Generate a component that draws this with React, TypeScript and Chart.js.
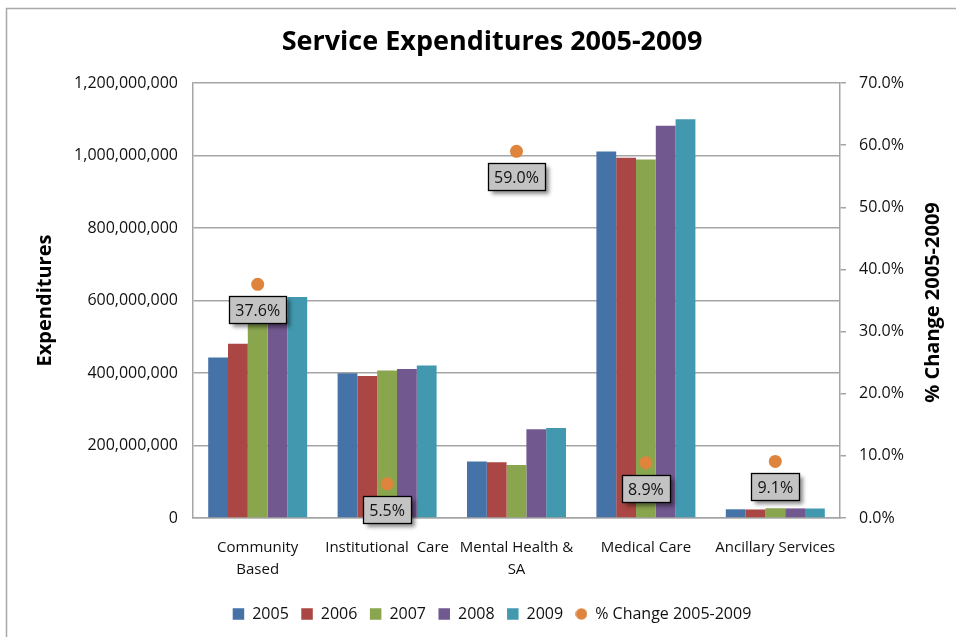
import React, { useEffect, useRef } from 'react';
import { Chart, registerables } from 'chart.js';

Chart.register(...registerables);

const categories: (string | string[])[] = [
  ['Community', 'Based'],
  'Institutional  Care',
  ['Mental Health &', 'SA'],
  'Medical Care',
  'Ancillary Services',
];
const years = ['2005', '2006', '2007', '2008', '2009'];
const exp2005 = [443e6, 399e6, 156e6, 1011e6, 24e6];
const exp2006 = [481e6, 392e6, 154e6, 994e6, 23.5e6];
const exp2007 = [540e6, 407e6, 146e6, 989e6, 27e6];
const exp2008 = [551e6, 411e6, 245e6, 1082e6, 26.5e6];
const exp2009 = [610e6, 421e6, 248e6, 1100e6, 26.2e6];
const pctChange = [37.6, 5.5, 59.0, 8.9, 9.1];
const pctLabel = '% Change 2005-2009';
const barColors = ['#4572A7', '#AA4643', '#89A54E', '#71588F', '#4198AF'];
const dotColor = '#DE843D';

const FONT = '"Open Sans", sans-serif';

export default function App() {
  const ref = useRef<HTMLCanvasElement>(null);
  useEffect(() => {
    document.body.style.margin = '0';
    const canvas = ref.current!;
    const dot = document.createElement('canvas');
    dot.width = 12;
    dot.height = 12;
    const dctx = dot.getContext('2d')!;
    dctx.fillStyle = dotColor;
    dctx.beginPath();
    dctx.arc(6, 6, 5.8, 0, Math.PI * 2);
    dctx.fill();

    const series = [exp2005, exp2006, exp2007, exp2008, exp2009];
    const lineIndex = series.length;

    const framePlugin = {
      id: 'frame',
      beforeDraw(chart: any) {
        const c = chart.ctx;
        c.save();
        c.fillStyle = '#fff';
        c.fillRect(0, 0, chart.width, chart.height);
        c.strokeStyle = '#a8a8a8';
        c.lineWidth = 1.5;
        c.beginPath();
        c.moveTo(6.5, chart.height);
        c.lineTo(6.5, 8.5);
        c.lineTo(chart.width, 8.5);
        c.stroke();
        c.restore();
      },
      afterDraw(chart: any) {
        const c = chart.ctx;
        const area = chart.chartArea;
        c.save();
        c.translate(933, (area.top + area.bottom) / 2 + 2);
        c.rotate(-Math.PI / 2);
        c.font = 'bold 20px ' + FONT;
        c.fillStyle = '#000';
        c.textAlign = 'center';
        c.textBaseline = 'middle';
        c.fillText(pctLabel, 0, 0);
        c.restore();
      },
    };

    const labelPlugin = {
      id: 'pctLabels',
      afterDatasetsDraw(chart: any) {
        const c = chart.ctx;
        const meta = chart.getDatasetMeta(lineIndex);
        c.save();
        c.font = '16px ' + FONT;
        c.textAlign = 'center';
        c.textBaseline = 'middle';
        meta.data.forEach((pt: any, i: number) => {
          const text = pctChange[i].toFixed(1) + '%';
          const w = Math.round(c.measureText(text).width + 12);
          const h = 27;
          const x = Math.round(pt.x - w / 2) + 0.5;
          const y = Math.round(pt.y + 12) + 0.5;
          c.shadowColor = 'rgba(0,0,0,0.45)';
          c.shadowBlur = 4;
          c.shadowOffsetX = 3;
          c.shadowOffsetY = 3;
          c.fillStyle = '#c3c3c3';
          c.fillRect(x, y, w, h);
          c.shadowColor = 'transparent';
          c.shadowBlur = 0;
          c.shadowOffsetX = 0;
          c.shadowOffsetY = 0;
          c.strokeStyle = '#000';
          c.lineWidth = 1.3;
          c.strokeRect(x, y, w, h);
          c.fillStyle = '#111';
          c.fillText(text, pt.x, y + h / 2 + 1);
        });
        c.restore();
      },
    };

    const datasets: any[] = series.map((data, i) => ({
      type: 'bar',
      label: years[i],
      data,
      backgroundColor: barColors[i],
      borderWidth: 0,
      yAxisID: 'y',
      categoryPercentage: 0.765,
      barPercentage: 1.0,
      pointStyle: 'rect',
      order: 0,
    }));
    datasets.push({
      type: 'line',
      label: pctLabel,
      data: pctChange,
      yAxisID: 'y1',
      showLine: false,
      pointRadius: 6.5,
      pointHoverRadius: 6.5,
      pointBackgroundColor: dotColor,
      pointBorderWidth: 0,
      backgroundColor: dotColor,
      borderColor: dotColor,
      pointStyle: 'circle',
      order: -1,
    });

    Chart.defaults.font.family = FONT;
    Chart.defaults.color = '#111';

    const chart = new Chart(canvas, {
      type: 'bar',
      data: { labels: categories as any, datasets },
      plugins: [framePlugin, labelPlugin],
      options: {
        animation: false,
        responsive: false,
        layout: { padding: { left: 28, right: 0, top: 0, bottom: 5 } },
        plugins: {
          tooltip: { enabled: false },
          title: {
            display: true,
            text: 'Service Expenditures 2005-2009',
            font: { size: 27, weight: 'bold', family: FONT },
            color: '#000',
            padding: { top: 26, bottom: 24.6 },
          },
          legend: {
            position: 'bottom',
            labels: {
              usePointStyle: true,
              boxWidth: 11.5,
              boxHeight: 11.5,
              padding: 12.5,
              font: { size: 16, family: FONT },
              color: '#111',
              sort: (a: any, b: any) => a.datasetIndex - b.datasetIndex,
              generateLabels: (ch: any) => {
                const items = (Chart.defaults.plugins.legend.labels as any).generateLabels(ch);
                items.forEach((it: any) => {
                  it.pointStyle = it.datasetIndex === lineIndex ? dot : 'rect';
                  it.lineWidth = 0;
                });
                return items;
              },
            },
          },
        },
        scales: {
          x: {
            grid: { display: false, drawTicks: false },
            border: { display: true, color: '#a5a5a5', width: 1.5 },
            ticks: {
              autoSkip: false,
              maxRotation: 0,
              padding: 19,
              font: { size: 15, family: FONT, lineHeight: 1.45 },
              color: '#111',
            },
            afterFit: (s: any) => {
              s.height = 75.5;
            },
          },
          y: {
            position: 'left',
            min: 0,
            max: 1200000000,
            ticks: {
              stepSize: 200000000,
              padding: 15,
              font: { size: 16, family: FONT },
              color: '#111',
              callback: (v: any) => Number(v).toLocaleString('en-US'),
            },
            grid: { color: '#a5a5a5', lineWidth: 1.5, drawTicks: false },
            border: { display: true, color: '#a5a5a5', width: 1.5 },
            title: {
              display: true,
              text: 'Expenditures',
              font: { size: 20, weight: 'bold', family: FONT },
              color: '#000',
              padding: { top: 5, bottom: 0 },
            },
            afterFit: (s: any) => {
              s.width = 165;
            },
          },
          y1: {
            position: 'right',
            min: 0,
            max: 70,
            ticks: {
              stepSize: 10,
              padding: 13,
              font: { size: 16, family: FONT },
              color: '#111',
              callback: (v: any) => Number(v).toFixed(1) + '%',
            },
            grid: {
              drawOnChartArea: false,
              drawTicks: true,
              tickLength: 6,
              color: '#a5a5a5',
              lineWidth: 1.5,
            },
            border: { display: true, color: '#a5a5a5', width: 1.5 },
            afterFit: (s: any) => {
              s.width = 116;
            },
          },
        },
      },
    } as any);
    return () => chart.destroy();
  }, []);
  return (
    <div style={{ width: 956, height: 637 }}>
      <canvas ref={ref} width={956} height={637} style={{ display: 'block' }} />
    </div>
  );
}
